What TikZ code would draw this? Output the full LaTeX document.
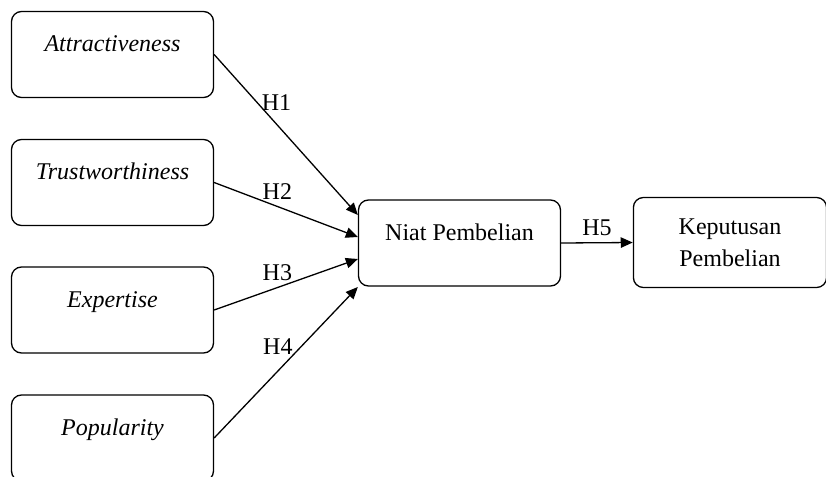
\documentclass[tikz,border=0pt]{standalone}
\usepackage{fontspec}
\setmainfont{Liberation Serif}
\usepackage{tikz}
\usetikzlibrary{positioning,arrows.meta,calc}

\begin{document}
\begin{tikzpicture}[
   x=0.5pt, y=-0.5pt,
   font=\fontsize{12}{16}\selectfont,
   box/.style={draw,rounded corners=5pt,minimum width=101pt,minimum height=43pt,
               inner sep=2pt,align=center,line width=0.65pt},
   topbox/.style={box,text height=8pt,text depth=10.8pt},
   hyp/.style={-{Triangle[length=6pt,width=5.2pt]},line width=0.65pt},
]
\useasboundingbox (0,0) rectangle (826,477);

\node[topbox] (attr)   at (112.5,54.5) {\textit{Attractiveness}};
\node[topbox] (trust)  at (112.5,182.5) {\textit{Trustworthiness}};
\node[topbox] (expert) at (112.5,310) {\textit{Expertise}};
\node[topbox] (popul)  at (112.5,438) {\textit{Popularity}};
\node[topbox] (niat)   at (459.5,243) {Niat Pembelian};
\node[box,minimum width=96.6pt,minimum height=45pt] (kep) at (730,242.5)
        {Keputusan\\Pembelian};

% hypothesis arrows
\draw[hyp] (attr.east)   -- ([yshift=14pt]niat.west)
        node[pos=0.3,right,inner sep=2pt]{H1};
\draw[hyp] (trust.east)  -- ([yshift=3pt]niat.west)
        node[pos=0.44,above]{H2};
\draw[hyp] (expert.east) -- ([yshift=-8pt]niat.west)
        node[pos=0.44,above]{H3};
\draw[hyp] (popul.east)  -- ([yshift=-22pt]niat.west)
        node[pos=0.55,above left,inner sep=0pt]{H4};
\draw[hyp] (niat.east)   -- (kep.west)
        node[midway,above]{H5};

\end{tikzpicture}
\end{document}
